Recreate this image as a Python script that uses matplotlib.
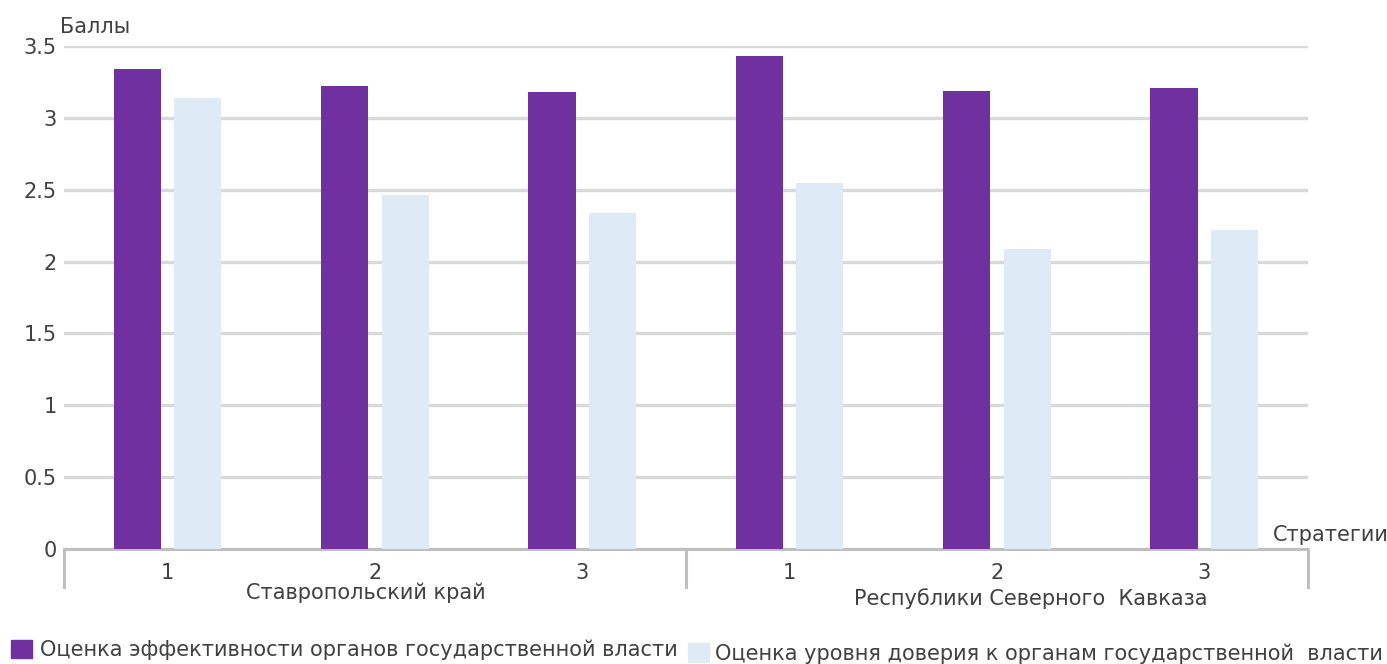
# %% Modules

import numpy as np
import matplotlib.pyplot as plt
import matplotlib.transforms as mtransforms
from matplotlib.patches import Patch

# %% Data

strategies = ["1", "2", "3", "1", "2", "3"]
groups = ["Ставропольский край", "Республики Северного  Кавказа"]
efficiency = [3.34, 3.22, 3.18, 3.43, 3.19, 3.21]
trust = [3.14, 2.46, 2.34, 2.55, 2.09, 2.22]
series_names = [
    "Оценка эффективности органов государственной власти",
    "Оценка уровня доверия к органам государственной  власти",
]

# %% Style

plt.rcParams["font.family"] = ["DejaVu Sans"]
text_color = "#404040"
purple = "#7030a0"
light = "#deeaf6"
grid_color = "#d9d9d9"
font_size = 15

fig = plt.figure(figsize = (13.87, 6.64), dpi = 100)
ax = fig.add_axes([0.0461, 0.1732, 0.8969, 0.7575])

x = np.arange(len(strategies))
width = 0.227
offset = 0.146

ax.bar(x - offset, efficiency, width = width, color = purple, zorder = 3)
ax.bar(x + offset, trust, width = width, color = light, zorder = 3)

ax.set_xlim(-0.5, len(strategies) - 0.5)
ax.set_ylim(0, 3.5)
ax.set_yticks(np.arange(0, 3.51, 0.5))
ax.set_yticklabels(["0", "0.5", "1", "1.5", "2", "2.5", "3", "3.5"])
ax.yaxis.grid(True, color = grid_color, linewidth = 2.4, zorder = 0)
ax.set_axisbelow(True)

for side in ["top", "right", "left"]:
    ax.spines[side].set_visible(False)
ax.spines["bottom"].set_color("#bfbfbf")
ax.spines["bottom"].set_linewidth(2.2)

ax.set_xticks(x)
ax.set_xticklabels(strategies)
ax.tick_params(axis = "x", length = 0, pad = 10, labelsize = font_size, labelcolor = text_color)
ax.tick_params(axis = "y", length = 0, pad = 5, labelsize = font_size, labelcolor = text_color)

# Group separators and group labels below the axis

trans = mtransforms.blended_transform_factory(ax.transData, ax.transAxes)
for xs in [-0.5, 2.5, 5.5]:
    ax.plot([xs, xs], [0, -0.076], transform = trans, color = "#bfbfbf", linewidth = 2.2, clip_on = False)

ax.text(0.955, -0.086, groups[0], transform = trans, ha = "center", va = "center", fontsize = font_size, color = text_color)
ax.text(4.165, -0.098, groups[1], transform = trans, ha = "center", va = "center", fontsize = font_size, color = text_color)

# Axis titles

fig.text(0.0433, 0.96, "Баллы", ha = "left", va = "center", fontsize = font_size, color = text_color)
fig.text(0.918, 0.194, "Стратегии", ha = "left", va = "center", fontsize = font_size, color = text_color)

# Legend

fig.legend(handles = [Patch(color = purple)], labels = [series_names[0]], loc = "center left",
           bbox_to_anchor = (0.002, 0.021), frameon = False, fontsize = font_size,
           handlelength = 1.0, handleheight = 1.0, handletextpad = 0.38, borderaxespad = 0)
fig.legend(handles = [Patch(color = light)], labels = [series_names[1]], loc = "center left",
           bbox_to_anchor = (0.490, 0.016), frameon = False, fontsize = font_size,
           handlelength = 1.0, handleheight = 1.0, handletextpad = 0.3, borderaxespad = 0)
for leg in fig.legends:
    for t in leg.get_texts():
        t.set_color(text_color)

plt.savefig("out.png", dpi = 100)
